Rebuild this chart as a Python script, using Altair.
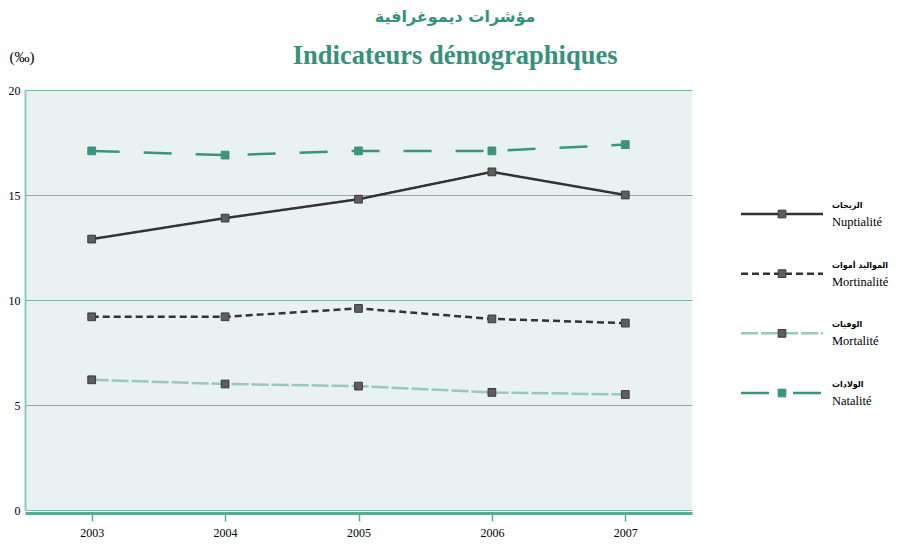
import altair as alt
import pandas as pd

years = [2003, 2004, 2005, 2006, 2007]
nuptialite = [12.9, 13.9, 14.8, 16.1, 15.0]
mortinalite = [9.2, 9.2, 9.6, 9.1, 8.9]
mortalite = [6.2, 6.0, 5.9, 5.6, 5.5]
natalite = [17.1, 16.9, 17.1, 17.1, 17.4]

series_fr = ["Nuptialité", "Mortinalité", "Mortalité", "Natalité"]
series_ar = ["الزيجات", "المواليد أموات", "الوفيات", "الولادات"]
y_ticks = [0, 5, 10, 15, 20]

title_ar = "مؤشرات ديموغرافية"
title_fr = "Indicateurs démographiques"
unit = "(‰)"

# styles
TEAL = "#35917c"
line_colors = ["#333333", "#333333", "#99c9bd", "#3a9480"]
dashes = [[1, 0], [7, 4], [17, 3], [28, 24]]
widths = [2.5, 2.5, 3, 3]
marker_fill = ["#5e5e5e", "#5e5e5e", "#5e5e5e", "#3a9480"]
marker_stroke = ["#3a3a3a", "#3a3a3a", "#3a3a3a", "#3a9480"]

rows = []
for name, vals in zip(series_fr, [nuptialite, mortinalite, mortalite, natalite]):
    for yr, v in zip(years, vals):
        rows.append({"year": yr, "value": v, "series": name})
df = pd.DataFrame(rows)
leg = pd.DataFrame({"series": series_fr, "ar": series_ar})

color_s = alt.Scale(domain=series_fr, range=line_colors)
dash_s = alt.Scale(domain=series_fr, range=dashes)
width_s = alt.Scale(domain=series_fr, range=widths)
fill_s = alt.Scale(domain=series_fr, range=marker_fill)
mstroke_s = alt.Scale(domain=series_fr, range=marker_stroke)

SERIF = "Liberation Serif"

x_enc = alt.X(
    "year:Q",
    scale=alt.Scale(domain=[2002.5, 2007.5], nice=False, zero=False),
    axis=alt.Axis(
        values=years, format="d", title=None, grid=False,
        domainColor="#5ea996", domainWidth=3, offset=3,
        tickColor="#5ea996", tickWidth=1.5, tickSize=8,
        labelFont=SERIF, labelFontSize=12, labelColor="#000000", labelPadding=6,
    ),
)
y_enc = alt.Y(
    "value:Q",
    scale=alt.Scale(domain=[0, 20], nice=False),
    axis=alt.Axis(
        values=y_ticks, title=unit, titleAngle=0, titleX=-16, titleY=-34,
        titleAlign="left", titleBaseline="middle", titleFont=SERIF,
        titleFontSize=15, titleFontWeight="normal", titleColor="#000000",
        grid=True, gridColor="#74b8a8", gridWidth=1,
        domainColor="#8fc7b9", domainWidth=2, ticks=False,
        labelFont=SERIF, labelFontSize=12, labelColor="#000000", labelPadding=5,
    ),
)

base = alt.Chart(df)
lines = base.mark_line().encode(
    x=x_enc, y=y_enc,
    color=alt.Color("series:N", scale=color_s, legend=None),
    strokeDash=alt.StrokeDash("series:N", scale=dash_s, legend=None),
    strokeWidth=alt.StrokeWidth("series:N", scale=width_s, legend=None),
    detail="series:N",
)
points = base.mark_point(shape="square", filled=True, size=60, opacity=1, strokeWidth=1).encode(
    x="year:Q", y="value:Q",
    fill=alt.Fill("series:N", scale=fill_s, legend=None),
    stroke=alt.Stroke("series:N", scale=mstroke_s, legend=None),
)
main = alt.layer(lines, points).properties(width=667, height=420)

ly = alt.Y("series:N", sort=series_fr,
           scale=alt.Scale(type="point", domain=series_fr, range=[124, 303], padding=0),
           axis=None)
lbase = alt.Chart(leg)
lrule = lbase.mark_rule().encode(
    x=alt.value(0), x2=alt.value(82), y=ly,
    color=alt.Color("series:N", scale=color_s, legend=None),
    strokeDash=alt.StrokeDash("series:N", scale=dash_s, legend=None),
    strokeWidth=alt.StrokeWidth("series:N", scale=width_s, legend=None),
)
lpt = lbase.mark_point(shape="square", filled=True, size=60, opacity=1, strokeWidth=1).encode(
    x=alt.value(41), y=ly,
    fill=alt.Fill("series:N", scale=fill_s, legend=None),
    stroke=alt.Stroke("series:N", scale=mstroke_s, legend=None),
)
ltxt_ar = lbase.mark_text(align="left", baseline="middle", dy=-8, font="DejaVu Sans",
                          fontSize=8, fontWeight="bold", color="#000000").encode(
    x=alt.value(91), y=ly, text="ar:N")
ltxt_fr = lbase.mark_text(align="left", baseline="middle", dy=8, font=SERIF,
                          fontSize=12.5, color="#000000").encode(
    x=alt.value(91), y=ly, text="series:N")
legend = alt.layer(lrule, lpt, ltxt_ar, ltxt_fr).properties(
    width=120, height=420, view=alt.ViewBackground(fill=None, stroke=None))

chart = alt.hconcat(main, legend, spacing=47).properties(
    title=alt.TitleParams(
        text=title_ar, subtitle=title_fr, anchor="middle", dx=7,
        font="DejaVu Sans", fontSize=16, fontWeight="bold", color=TEAL,
        subtitleFont=SERIF, subtitleFontSize=26.5, subtitleFontWeight="bold",
        subtitleColor=TEAL, subtitlePadding=18, offset=-20,
    ),
    padding=0,
).resolve_scale(color="independent", strokeDash="independent", strokeWidth="independent",
                fill="independent", stroke="independent", y="independent", x="independent"
).configure_view(fill="#e9f2f0", stroke=None)

chart.save("out.html", embed_options={"renderer": "svg", "actions": False})
